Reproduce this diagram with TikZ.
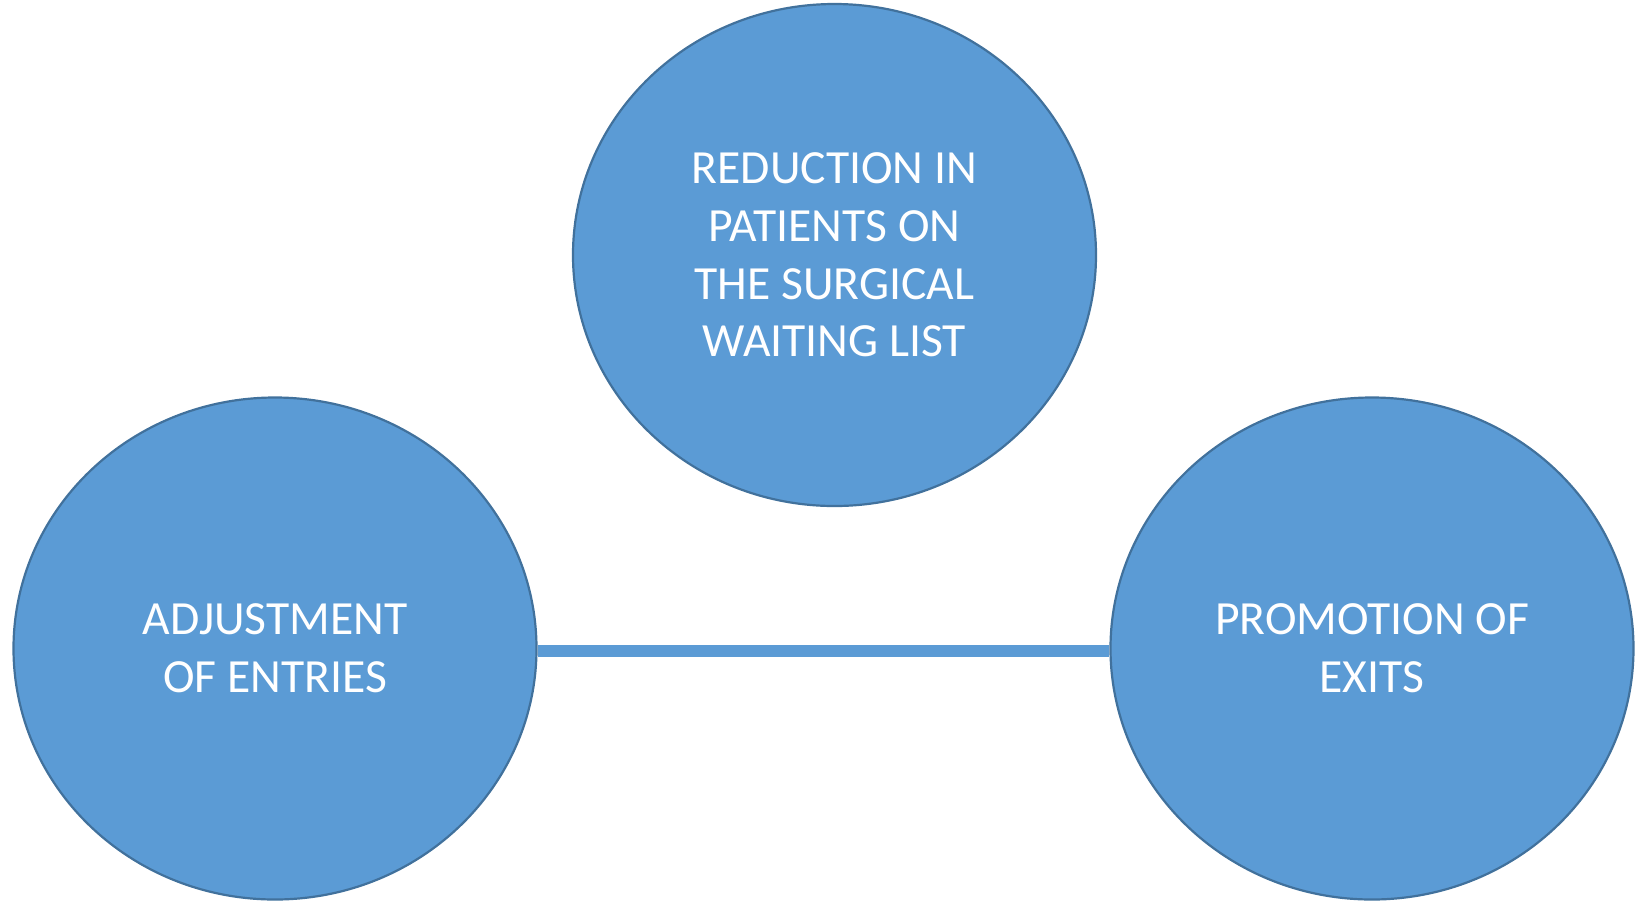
\documentclass[tikz,border=0pt]{standalone}
\usepackage{fontspec}
\setmainfont{Carlito}
\usetikzlibrary{shapes.geometric}
\definecolor{fillblue}{HTML}{5B9BD5}
\definecolor{edgeblue}{HTML}{41719C}
\begin{document}
\begin{tikzpicture}[x=0.5pt,y=-0.5pt,
  bubble/.style={ellipse, draw=edgeblue, line width=1.1pt, fill=fillblue,
    minimum width=261.5pt, minimum height=251pt, inner sep=0pt,
    text=white, align=center,
    font=\fontsize{23.8pt}{28.8pt}\selectfont},
  link/.style={draw=fillblue, line width=6pt}]
\useasboundingbox (0,0) rectangle (1640,902);
\node[bubble] (top) at (834.5,255) {REDUCTION IN\\PATIENTS ON\\THE SURGICAL\\WAITING LIST};
\node[bubble] (left) at (275,648.5) {ADJUSTMENT\\OF ENTRIES};
\node[bubble] (right) at (1372,648.5) {PROMOTION OF\\EXITS};
\draw[link] ([yshift=-1pt]left.east) -- ([yshift=-1pt]right.west);
\end{tikzpicture}
\end{document}
